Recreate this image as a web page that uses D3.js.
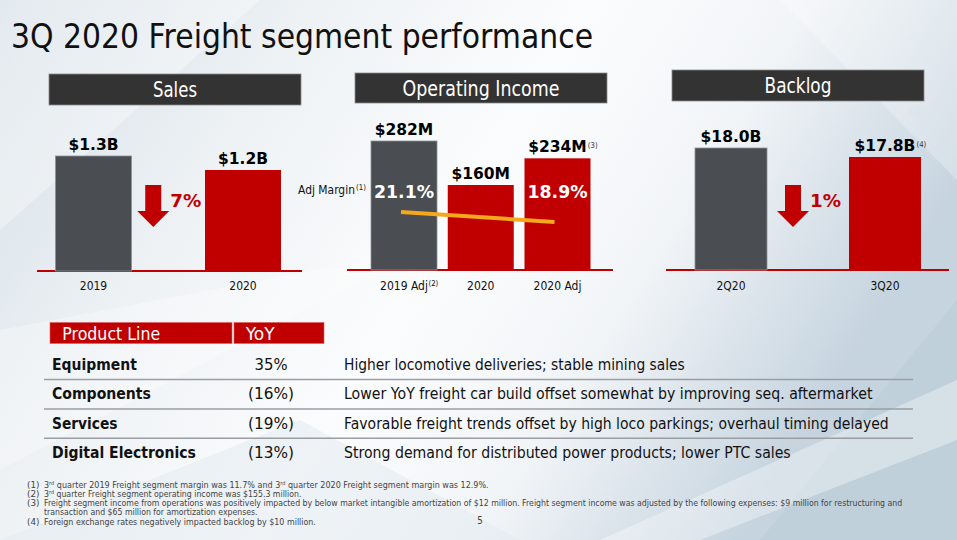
<!DOCTYPE html>
<html><head><meta charset="utf-8">
<script src="https://cdn.jsdelivr.net/npm/d3@7"></script>
<style>
body{margin:0;overflow:hidden;background:#fff}
svg{display:block}
text{font-family:"DejaVu Sans",Verdana,sans-serif}
</style>
</head><body>
<svg id="c" width="957" height="540"></svg>
<script>
// ---------------- data ----------------
const titleText = "3Q 2020 Freight segment performance";
const panelTitles = ["Sales", "Operating Income", "Backlog"];

const salesCats = ["2019", "2020"];
const salesVals = [1.3, 1.2];
const salesLabels = ["$1.3B", "$1.2B"];
const salesChange = "7%";

const oiCats = ["2019 Adj", "2020", "2020 Adj"];
const oiCatNotes = ["(2)", "", ""];
const oiVals = [282, 160, 234];
const oiLabels = ["$282M", "$160M", "$234M"];
const oiLabelNotes = ["", "", "(3)"];

const marginCats = ["2019 Adj", "2020 Adj"];
const marginVals = [21.1, 18.9];
const marginLabels = ["21.1%", "18.9%"];
const marginTitle = "Adj Margin";
const marginNote = "(1)";

const backlogCats = ["2Q20", "3Q20"];
const backlogVals = [18.0, 17.8];
const backlogLabels = ["$18.0B", "$17.8B"];
const backlogLabelNotes = ["", "(4)"];
const backlogChange = "1%";

const tableHeaders = ["Product Line", "YoY"];
const productLines = ["Equipment", "Components", "Services", "Digital Electronics"];
const yoyChange = ["35%", "(16%)", "(19%)", "(13%)"];
const drivers = [
  "Higher locomotive deliveries; stable mining sales",
  "Lower YoY freight car build offset somewhat by improving seq. aftermarket",
  "Favorable freight trends offset by high loco parkings; overhaul timing delayed",
  "Strong demand for distributed power products; lower PTC sales"
];
const footNums = ["(1)", "(2)", "(3)", "", "(4)"];
const footTexts = [
  "3^rd quarter 2019 Freight segment margin was 11.7% and 3^rd quarter 2020 Freight segment margin was 12.9%.",
  "3^rd quarter Freight segment operating income was $155.3 million.",
  "Freight segment income from operations was positively impacted by below market intangible amortization of $12 million. Freight segment income was adjusted by the following expenses: $9 million for restructuring and",
  "transaction and $65 million for amortization expenses.",
  "Foreign exchange rates negatively impacted backlog by $10 million."
];
const pageNumber = "5";

// ---------------- helpers ----------------
const svg = d3.select("#c");
const RED = "#c00000", GRAY = "#4a4d51", HEAD = "#333333";
const SQ = 0.87; // Tahoma-like horizontal squeeze of DejaVu Sans

// text inside a group, squeezed horizontally to width w (or by factor sx)
function stext(parent, x, y, str, size, opts = {}) {
  const g = parent.append("g").attr("transform", `translate(${x},${y})`);
  const t = g.append("text").attr("font-size", size).attr("fill", opts.fill || "#111")
    .attr("text-anchor", opts.anchor || "start").text(str);
  if (opts.weight) t.attr("font-weight", opts.weight);
  if (opts.style) t.attr("font-style", opts.style);
  const m = t.node().getComputedTextLength();
  const sx = opts.w ? opts.w / m : (opts.sx || 1);
  g.attr("transform", `translate(${x},${y}) scale(${sx},1)`);
  return {g, t, width: m * sx};
}

// ---------------- background ----------------
const defs = svg.append("defs");
const bg = defs.append("linearGradient").attr("id", "bg").attr("x1", "0").attr("y1", "0").attr("x2", "1").attr("y2", "0.35");
[[0, "#d5dfe7"], [0.3, "#eef2f5"], [0.55, "#fbfcfd"], [0.75, "#f2f5f8"], [1, "#c6d4df"]]
  .forEach(([o, c]) => bg.append("stop").attr("offset", o).attr("stop-color", c));
svg.append("rect").attr("width", 957).attr("height", 540).attr("fill", "url(#bg)");
const shapes = [
  [[0, 0], [260, 0], [0, 230]],
  [[0, 330], [420, 250], [0, 470]],
  [[0, 540], [300, 420], [520, 540]],
  [[957, 300], [760, 540], [957, 540]],
  [[780, 0], [957, 0], [957, 180]],
  [[600, 540], [957, 380], [957, 440], [700, 540]]
];
const shapeFill = ["#ffffff", "#ffffff", "#e2eaf0", "#b9cbd8", "#ffffff", "#ffffff"];
const shapeOp = [0.35, 0.3, 0.5, 0.45, 0.25, 0.35];
svg.selectAll("polygon.bg").data(shapes).join("polygon").attr("class", "bg")
  .attr("points", d => d.map(p => p.join(",")).join(" "))
  .attr("fill", (d, i) => shapeFill[i]).attr("opacity", (d, i) => shapeOp[i]);

// ---------------- title ----------------
stext(svg, 11, 47.5, titleText, 34.4, {w: 582, fill: "#111"});

// ---------------- panel header boxes ----------------
const headBoxes = [
  {x: 49, y: 74, w: 252, h: 31, ty: 97},
  {x: 355, y: 73, w: 252, h: 30, ty: 96},
  {x: 672, y: 70, w: 252, h: 31, ty: 93}
];
const headW = [44, 157, 67];
headBoxes.forEach((b, i) => {
  svg.append("rect").attr("x", b.x).attr("y", b.y).attr("width", b.w).attr("height", b.h)
    .attr("fill", HEAD).attr("stroke", "#8a8a8a").attr("stroke-width", 0.8);
  stext(svg, b.x + b.w / 2, b.ty, panelTitles[i], 20.5, {w: headW[i], anchor: "middle", fill: "#fff"});
});

const BOLD = 16;     // bold value labels
const PCT = 16.8;    // bold percentage labels
const CAT = 12.4;    // category labels
const SUP = 8;       // superscript notes

// ---------------- generic bar panel ----------------
function drawBars(cfg) {
  const g = svg.append("g");
  g.append("line").attr("x1", cfg.base[0]).attr("x2", cfg.base[1])
    .attr("y1", cfg.y.range()[0]).attr("y2", cfg.y.range()[0])
    .attr("stroke", RED).attr("stroke-width", 2.2);
  g.selectAll("rect.bar").data(cfg.vals).join("rect").attr("class", "bar")
    .attr("x", (d, i) => cfg.x(cfg.cats[i]) - cfg.bw / 2)
    .attr("width", cfg.bw)
    .attr("y", d => cfg.y(d))
    .attr("height", d => cfg.y.range()[0] - cfg.y(d))
    .attr("fill", (d, i) => i === 0 ? GRAY : RED)
    .attr("stroke", (d, i) => i === 0 ? "#8d9297" : "none").attr("stroke-width", 0.8);
  // value labels
  cfg.vals.forEach((v, i) => {
    const lab = stext(g, cfg.x(cfg.cats[i]), cfg.y(v) - 6, cfg.labels[i], BOLD,
      {anchor: "middle", weight: "bold", fill: "#000", sx: 0.97});
    const note = cfg.labelNotes ? cfg.labelNotes[i] : "";
    if (note) stext(g, cfg.x(cfg.cats[i]) + lab.width / 2 + 1, cfg.y(v) - 10, note, SUP, {fill: "#333", sx: SQ});
  });
  // category labels
  cfg.cats.forEach((c, i) => {
    const lab = stext(g, cfg.x(c), 290, c, CAT, {anchor: "middle", sx: SQ});
    const note = cfg.catNotes ? cfg.catNotes[i] : "";
    if (note) stext(g, cfg.x(c) + lab.width / 2 + 0.5, 286, note, SUP, {sx: SQ});
  });
  // change arrow
  if (cfg.change) {
    const mid = (cfg.x(cfg.cats[0]) + cfg.x(cfg.cats[1])) / 2 - 15;
    const top = 185, shaftB = 211, tip = 227;
    g.append("path").attr("d",
      `M${mid - 8},${top} H${mid + 8} V${shaftB} H${mid + 16} L${mid},${tip} L${mid - 16},${shaftB} H${mid - 8} Z`)
      .attr("fill", RED);
    stext(g, mid + 17, 207, cfg.change, PCT, {weight: "bold", fill: RED, w: 31});
  }
  return g;
}

// Sales
const xSales = d3.scalePoint().domain(salesCats).range([93.5, 243]);
const ySales = d3.scaleLinear().domain([0.479, 1.3]).range([271, 156]);
drawBars({cats: salesCats, vals: salesVals, labels: salesLabels, x: xSales, y: ySales, bw: 76,
  base: [37, 302], change: salesChange});

// Operating income
const xOI = d3.scalePoint().domain(oiCats).range([404, 557.5]);
const yOI = d3.scaleLinear().domain([-75.6, 282]).range([270, 141]);
drawBars({cats: oiCats, vals: oiVals, labels: oiLabels, labelNotes: oiLabelNotes, catNotes: oiCatNotes,
  x: xOI, y: yOI, bw: 66, base: [347, 613]});

// margin line
const yMargin = d3.scaleLinear().domain([18.9, 21.1]).range([222, 212]);
svg.append("path")
  .attr("d", d3.line().x((d, i) => xOI(marginCats[i]) - 3).y(d => yMargin(d))(marginVals))
  .attr("stroke", "#f5a81c").attr("stroke-width", 4).attr("fill", "none");
marginVals.forEach((v, i) => {
  stext(svg, xOI(marginCats[i]), 198, marginLabels[i], PCT, {anchor: "middle", weight: "bold", fill: "#fff", w: 60});
});
stext(svg, 298, 193.5, marginTitle, 12.8, {w: 57});
stext(svg, 356, 189.5, marginNote, SUP, {sx: SQ});

// Backlog
const xBL = d3.scalePoint().domain(backlogCats).range([731, 885]);
const yBL = d3.scaleLinear().domain([15.29, 18.0]).range([270, 148]);
drawBars({cats: backlogCats, vals: backlogVals, labels: backlogLabels, labelNotes: backlogLabelNotes,
  x: xBL, y: yBL, bw: 72, base: [666, 949], change: backlogChange});
stext(svg, 907, 116, "Adj.", 10, {style: "italic", fill: "#dde4ea", sx: SQ});

// ---------------- table ----------------
const headRects = [{x: 50, w: 182}, {x: 234, w: 90}];
const headTextX = [62.3, 245.7];
const headTextW = [98, 29];
headRects.forEach((r, i) => {
  svg.append("rect").attr("x", r.x).attr("y", 322.5).attr("width", r.w).attr("height", 21)
    .attr("fill", RED).attr("stroke", "#e06060").attr("stroke-width", 0.6);
  stext(svg, headTextX[i], 340, tableHeaders[i], 17.5, {w: headTextW[i], fill: "#fff"});
});
const rowY = d3.scalePoint().domain(productLines).range([370, 458.3]);
productLines.slice(0, 3).forEach(p => {
  svg.append("line").attr("x1", 44).attr("x2", 913)
    .attr("y1", rowY(p) + 9.5).attr("y2", rowY(p) + 9.5)
    .attr("stroke", "#9a9ea2").attr("stroke-width", 1.5);
});
const nameW = [85, 99, 65.6, 144];
const yoyW = [33, 46, 46, 46];
const drvW = [341, 529, 545, 447];
productLines.forEach((p, i) => {
  stext(svg, 52, rowY(p), p, 16, {weight: "bold", w: nameW[i]});
  stext(svg, 271, rowY(p), yoyChange[i], 15.8, {anchor: "middle", w: yoyW[i]});
  stext(svg, 344, rowY(p), drivers[i], 15.8, {w: drvW[i]});
});

// ---------------- footnotes ----------------
const FOOT = 8.8;
const footW = [445, 257.7, 859, 214, 272];
const footY = d3.scalePoint().domain(d3.range(footTexts.length)).range([487.5, 524.5]);
footTexts.forEach((txt, i) => {
  if (footNums[i]) stext(svg, 27, footY(i), footNums[i], FOOT, {fill: "#444", w: 12.5});
  const g = svg.append("g");
  const t = g.append("text").attr("font-size", FOOT).attr("fill", "#444");
  const parts = txt.split("^rd");
  parts.forEach((part, j) => {
    t.append("tspan").attr("dy", j === 0 ? 0 : 3).text(part);
    if (j < parts.length - 1) t.append("tspan").attr("font-size", FOOT * 0.62).attr("dy", -3).text("rd");
  });
  const sx = footW[i] / t.node().getComputedTextLength();
  g.attr("transform", `translate(44,${footY(i)}) scale(${sx},1)`);
});
stext(svg, 480, 524, pageNumber, 10, {anchor: "middle", fill: "#444", sx: SQ});
</script>
</body></html>
